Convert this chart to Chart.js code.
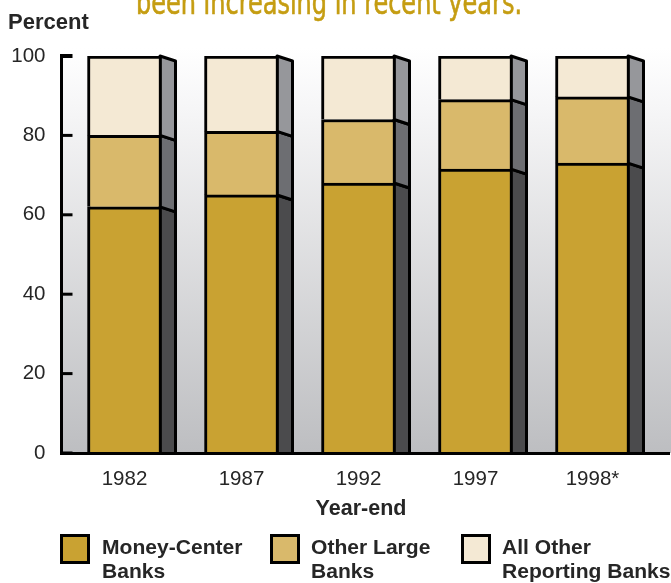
<!DOCTYPE html>
<html>
<head>
<meta charset="utf-8">
<script src="https://cdn.jsdelivr.net/npm/chart.js@4.4.1/dist/chart.umd.min.js"></script>
<style>
  html, body { margin: 0; padding: 0; background: #ffffff; }
  #wrap { width: 671px; height: 583px; position: relative; }
</style>
</head>
<body>
<div id="wrap"><canvas id="c" width="671" height="583"></canvas></div>
<script>
// ---- data ----
const years = ['1982', '1987', '1992', '1997', '1998*'];
const moneyCenter = [62, 65, 68, 71.5, 73];
const otherLarge = [18, 16, 16, 17.5, 16.7];
const allOther = [20, 19, 16, 11, 10.3];
const yTicks = [0, 20, 40, 60, 80, 100];
const seriesNames = [['Money-Center', 'Banks'], ['Other Large', 'Banks'], ['All Other', 'Reporting Banks']];
const titleText = 'been increasing in recent years.';

// ---- style ----
const FONT = "'Liberation Sans', Arial, Helvetica, sans-serif";
const TEXT = '#262626';
const fronts = ['#C9A232', '#D9B96B', '#F4E9D4'];
const sides = ['#4B4B4D', '#6D6E72', '#96979B'];

function toPoints(arr) { return arr.map((v, i) => ({ x: i, y: v })); }

const datasets = [moneyCenter, otherLarge, allOther].map((arr, k) => ({
  label: seriesNames[k].join(' '),
  data: toPoints(arr),
  backgroundColor: fronts[k],
  borderColor: '#000000',
  borderWidth: 3,
  borderSkipped: 'start',
  barThickness: 74,
  sideColor: sides[k]
}));

const decor = {
  id: 'decor',
  beforeDraw(chart) {
    const ctx = chart.ctx;
    const a = chart.chartArea;
    ctx.save();
    // plot background gradient
    const g = ctx.createLinearGradient(0, a.top - 8, 0, a.bottom);
    g.addColorStop(0, '#ffffff');
    g.addColorStop(0.15, '#f6f6f7');
    g.addColorStop(1, '#bdbec1');
    ctx.fillStyle = g;
    ctx.fillRect(a.left, a.top - 8, 671 - a.left, a.bottom - a.top + 8);

    // title (cut at top)
    ctx.fillStyle = '#C59D12';
    ctx.font = "33px 'DejaVu Sans Condensed', 'DejaVu Sans', sans-serif";
    ctx.textBaseline = 'alphabetic';
    ctx.textAlign = 'left';
    const tw = ctx.measureText(titleText).width;
    const sx = 386 / tw;
    ctx.save();
    ctx.translate(136, 14);
    ctx.scale(sx, 1);
    ctx.fillText(titleText, 0, 0);
    ctx.lineWidth = 0.6;
    ctx.strokeStyle = '#C59D12';
    ctx.strokeText(titleText, 0, 0);
    ctx.restore();

    // y axis title
    ctx.fillStyle = TEXT;
    ctx.font = "bold 22px " + FONT;
    ctx.fillText('Percent', 8, 29);

    // x axis title
    ctx.textAlign = 'center';
    ctx.font = "bold 21.5px " + FONT;
    ctx.fillText('Year-end', 361, 515);

    // legend
    const swX = [60, 270, 461];
    const txX = [102, 311, 502];
    for (let k = 0; k < 3; k++) {
      ctx.fillStyle = '#000';
      ctx.fillRect(swX[k], 534, 30, 30);
      ctx.fillStyle = chart.data.datasets[k].backgroundColor;
      ctx.fillRect(swX[k] + 3, 537, 24, 24);
      ctx.fillStyle = TEXT;
      ctx.font = "bold 19.5px " + FONT;
      ctx.textAlign = 'left';
      const lines = seriesNames[k];
      for (let j = 0; j < lines.length; j++) {
        ctx.save();
        ctx.translate(txX[k], 554 + j * 24);
        ctx.scale(1.08, 1);
        ctx.fillText(lines[j], 0, 0);
        ctx.restore();
      }
    }
    ctx.restore();
  },
  beforeDatasetsDraw(chart) {
    const ctx = chart.ctx;
    const a = chart.chartArea;
    ctx.save();
    ctx.beginPath();
    ctx.rect(0, 0, 671, a.bottom);
    ctx.clip();
    chart.data.datasets.forEach((ds, k) => {
      const meta = chart.getDatasetMeta(k);
      meta.data.forEach(el => {
        const xr = el.x + el.width / 2 - 1.5;
        const top = el.y, base = el.base;
        ctx.beginPath();
        ctx.moveTo(xr, top);
        ctx.lineTo(xr + 15.5, top + 5);
        ctx.lineTo(xr + 15.5, base + 5);
        ctx.lineTo(xr, base);
        ctx.closePath();
        ctx.fillStyle = ds.sideColor;
        ctx.fill();
        ctx.lineWidth = 3;
        ctx.strokeStyle = '#000';
        ctx.lineJoin = 'round';
        ctx.stroke();
      });
    });
    ctx.restore();
  },
  afterDraw(chart) {
    const ctx = chart.ctx;
    const a = chart.chartArea;
    const ys = chart.scales.y;
    ctx.save();
    ctx.strokeStyle = '#000';
    ctx.lineCap = 'butt';
    // x axis line
    ctx.lineWidth = 3;
    ctx.beginPath();
    ctx.moveTo(a.left - 1.5, a.bottom + 0.5);
    ctx.lineTo(670, a.bottom + 0.5);
    ctx.stroke();
    // y axis line
    ctx.beginPath();
    ctx.moveTo(a.left, a.top - 2);
    ctx.lineTo(a.left, a.bottom + 2);
    ctx.stroke();
    // inward tick marks
    yTicks.forEach(v => {
      const y = ys.getPixelForValue(v);
      ctx.lineWidth = v === 100 ? 4 : 3;
      ctx.beginPath();
      ctx.moveTo(a.left - 1.5, y);
      ctx.lineTo(a.left + 11, y);
      ctx.stroke();
    });
    ctx.restore();
  }
};

new Chart(document.getElementById('c'), {
  type: 'bar',
  data: { datasets },
  options: {
    responsive: false,
    animation: false,
    events: [],
    layout: { padding: { top: 56, right: 1, bottom: 90, left: 0 } },
    plugins: { legend: { display: false }, tooltip: { enabled: false }, title: { display: false } },
    scales: {
      x: {
        type: 'linear',
        stacked: true,
        offset: false,
        min: -0.5385,
        max: 4.6624,
        grid: { display: false, drawTicks: false },
        border: { display: false },
        afterBuildTicks: s => { s.ticks = years.map((_, i) => ({ value: i })); },
        afterFit: s => { s.height = 40; },
        ticks: {
          autoSkip: false, maxRotation: 0,
          callback: v => years[v],
          font: { family: FONT, size: 20.5 },
          color: TEXT,
          padding: 14
        }
      },
      y: {
        stacked: true,
        min: 0,
        max: 100,
        grid: { display: false, drawTicks: false },
        border: { display: false },
        afterBuildTicks: s => { s.ticks = yTicks.map(v => ({ value: v })); },
        afterFit: s => { s.width = 61.5; },
        ticks: {
          font: { family: FONT, size: 20.5 },
          color: TEXT,
          padding: 16
        }
      }
    }
  },
  plugins: [decor]
});
</script>
</body>
</html>
